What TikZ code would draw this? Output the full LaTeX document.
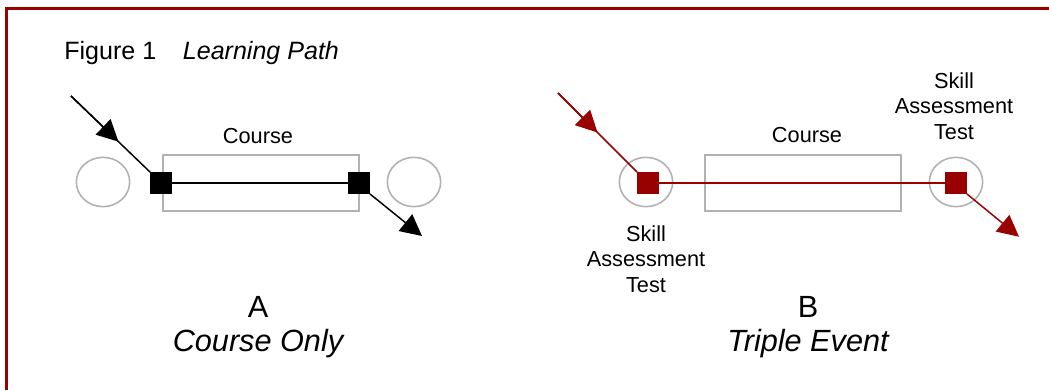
\documentclass[tikz,border=0pt]{standalone}
\usepackage{fontspec}
\setmainfont{Liberation Sans}
\usetikzlibrary{arrows.meta,calc,shapes.geometric}
\definecolor{pathred}{RGB}{153,0,0}
\definecolor{boxgray}{RGB}{178,178,178}

\begin{document}
\begin{tikzpicture}[x=0.75pt, y=-0.75pt,
  ev/.style={draw=boxgray, line width=1.2pt, ellipse, minimum width=40pt, minimum height=37pt, inner sep=0pt},
  coursebox/.style={draw=boxgray, line width=1.2pt, minimum width=147pt, minimum height=42pt, inner sep=0pt},
  gate/.style={minimum size=16pt, inner sep=0pt},
  lbl/.style={font=\fontsize{16.3}{19.3}\selectfont, align=center, inner sep=0pt},
  big/.style={font=\fontsize{23}{27}\selectfont, inner sep=0pt, anchor=base},
  tip/.style={-{Triangle[length=16pt, width=16pt]}},
  flow/.style={line width=1.1pt}]
\useasboundingbox (0,0) rectangle (1049,390);
\draw[pathred, line width=1.9pt] (1049,8.7) -- (6.7,8.7) -- (6.7,390);
\node[lbl, font=\fontsize{18.8}{22}\selectfont, anchor=base west] (title) at (64,59.3) {Figure 1\hspace{20pt}\textit{Learning Path}};

\node[ev] (eA1) at (103,182) {};
\node[ev] (eA2) at (414,182) {};
\node[coursebox] (cA) at (261,182.7) {};
\node[lbl, anchor=base] (tA) at (258,143.3) {Course};
\node[gate, fill=black] (sA1) at (161,183) {};
\node[gate, fill=black] (sA2) at (359,183) {};
\coordinate (inA) at (71,96);
\coordinate (outA) at (422,236);
\draw[flow] (inA) -- (sA1.north west);
\draw[flow, tip] (inA) -- ($(inA)!0.6!(sA1.north west)$);
\draw[flow] (sA1) -- (sA2);
\draw[flow, tip] (sA2.south east) -- (outA);
\node[big] (letA) at (258,317.3) {A};
\node[big] (nameA) at (258,351.7) {\itshape Course Only};

\node[ev] (eB1) at (646,182) {};
\node[ev] (eB2) at (956,182) {};
\node[coursebox] (cB) at (803,182.7) {};
\node[lbl, anchor=base] (tB) at (807,142.7) {Course};
\node[gate, fill=pathred] (sB1) at (648,183) {};
\node[gate, fill=pathred] (sB2) at (956,183) {};
\node[lbl] (skB1) at (646,259) {Skill\\Assessment\\Test};
\node[lbl] (skB2) at (954,106) {Skill\\Assessment\\Test};
\coordinate (inB) at (558,93);
\coordinate (outB) at (1019,236.7);
\draw[flow, pathred] (inB) -- (sB1.north west);
\draw[flow, pathred, tip] (inB) -- ($(inB)!0.5!(sB1.north west)$);
\draw[flow, pathred] (sB1) -- (sB2);
\draw[flow, pathred, tip] (sB2.south east) -- (outB);
\node[big] (letB) at (808,317.3) {B};
\node[big] (nameB) at (808,351.7) {\itshape Triple Event};
\end{tikzpicture}
\end{document}
